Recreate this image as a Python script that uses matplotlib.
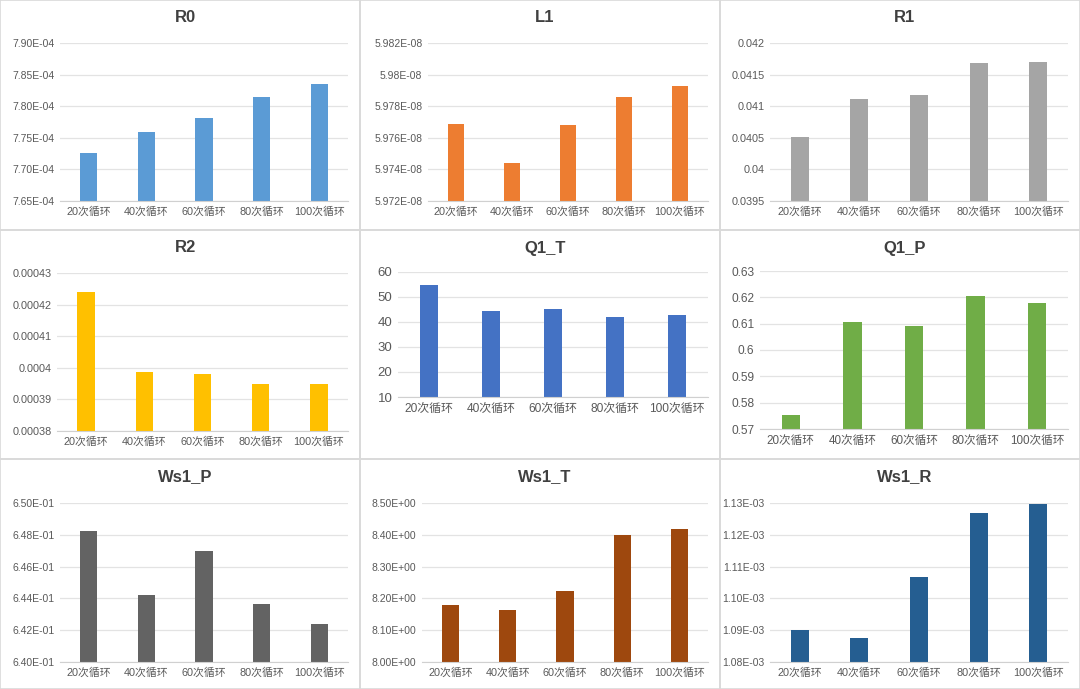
import matplotlib
matplotlib.use("Agg")
import matplotlib.pyplot as plt
from matplotlib.patches import Rectangle

plt.rcParams["font.family"] = ["Liberation Sans", "Noto Sans CJK SC"]

cycles = ["20次循环", "40次循环", "60次循环", "80次循环", "100次循环"]

r0 = [7.7267e-4, 7.759e-4, 7.781e-4, 7.8144e-4, 7.8355e-4]
l1 = [5.97688e-8, 5.9744e-8, 5.97678e-8, 5.97859e-8, 5.97928e-8]
r1 = [0.04052, 0.04111, 0.04117, 0.04169, 0.0417]
r2 = [0.000424, 0.0003987, 0.0003981, 0.0003949, 0.0003949]
q1_t = [54.8, 44.4, 45.1, 41.9, 42.7]
q1_p = [0.5753, 0.6105, 0.6091, 0.6204, 0.6179]
ws1_p = [6.4825e-1, 6.4419e-1, 6.4697e-1, 6.4364e-1, 6.4236e-1]
ws1_t = [8.179, 8.165, 8.223, 8.399, 8.417]
ws1_r = [1.0900e-3, 1.0877e-3, 1.1067e-3, 1.1269e-3, 1.1298e-3]

r0_ticks = [7.65e-4, 7.70e-4, 7.75e-4, 7.80e-4, 7.85e-4, 7.90e-4]
r0_labels = ["7.65E-04", "7.70E-04", "7.75E-04", "7.80E-04", "7.85E-04", "7.90E-04"]
l1_ticks = [5.972e-8, 5.974e-8, 5.976e-8, 5.978e-8, 5.980e-8, 5.982e-8]
l1_labels = ["5.972E-08", "5.974E-08", "5.976E-08", "5.978E-08", "5.98E-08", "5.982E-08"]
r1_ticks = [0.0395, 0.04, 0.0405, 0.041, 0.0415, 0.042]
r1_labels = ["0.0395", "0.04", "0.0405", "0.041", "0.0415", "0.042"]
r2_ticks = [0.00038, 0.00039, 0.0004, 0.00041, 0.00042, 0.00043]
r2_labels = ["0.00038", "0.00039", "0.0004", "0.00041", "0.00042", "0.00043"]
q1_t_ticks = [10, 20, 30, 40, 50, 60]
q1_t_labels = ["10", "20", "30", "40", "50", "60"]
q1_p_ticks = [0.57, 0.58, 0.59, 0.60, 0.61, 0.62, 0.63]
q1_p_labels = ["0.57", "0.58", "0.59", "0.6", "0.61", "0.62", "0.63"]
ws1_p_ticks = [0.640, 0.642, 0.644, 0.646, 0.648, 0.650]
ws1_p_labels = ["6.40E-01", "6.42E-01", "6.44E-01", "6.46E-01", "6.48E-01", "6.50E-01"]
ws1_t_ticks = [8.0, 8.1, 8.2, 8.3, 8.4, 8.5]
ws1_t_labels = ["8.00E+00", "8.10E+00", "8.20E+00", "8.30E+00", "8.40E+00", "8.50E+00"]
ws1_r_ticks = [1.08e-3, 1.09e-3, 1.10e-3, 1.11e-3, 1.12e-3, 1.13e-3]
ws1_r_labels = ["1.08E-03", "1.09E-03", "1.10E-03", "1.11E-03", "1.12E-03", "1.13E-03"]

W, H = 1080, 689
fig = plt.figure(figsize=(W / 100, H / 100), dpi=100)
fig.patch.set_facecolor("white")

# panel boxes (pixels): x0, y0, x1, y1
cells = [(0, 0, 360, 230), (360, 0, 720, 230), (720, 0, 1080, 230),
         (0, 230, 360, 459), (360, 230, 720, 459), (720, 230, 1080, 459),
         (0, 459, 360, 689), (360, 459, 720, 689), (720, 459, 1080, 689)]
for x0, y0, x1, y1 in cells:
    fig.patches.append(Rectangle((x0 / W, 1 - y1 / H), (x1 - x0) / W, (y1 - y0) / H,
                                 transform=fig.transFigure, fill=False,
                                 edgecolor="#d9d9d9", lw=1.2, zorder=0))

# title, values, ticks, labels, colour, plot box (px: left, top, right, bottom), y size, x size
panels = [
    ("R0", r0, r0_ticks, r0_labels, "#5B9BD5", (60, 43, 348, 201), 7.5, 7.8),
    ("L1", l1, l1_ticks, l1_labels, "#ED7D31", (428, 43, 708, 201), 7.5, 7.8),
    ("R1", r1, r1_ticks, r1_labels, "#A5A5A5", (770, 43, 1068, 201), 7.8, 7.8),
    ("R2", r2, r2_ticks, r2_labels, "#FFC000", (57, 273, 348, 431), 7.8, 7.8),
    ("Q1_T", q1_t, q1_t_ticks, q1_t_labels, "#4472C4", (398, 272, 708, 397), 9.5, 8.6),
    ("Q1_P", q1_p, q1_p_ticks, q1_p_labels, "#70AD47", (760, 271, 1068, 429), 8.6, 8.4),
    ("Ws1_P", ws1_p, ws1_p_ticks, ws1_p_labels, "#636363", (60, 503, 348, 662), 7.5, 7.8),
    ("Ws1_T", ws1_t, ws1_t_ticks, ws1_t_labels, "#9E480E", (422, 503, 708, 662), 7.5, 7.8),
    ("Ws1_R", ws1_r, ws1_r_ticks, ws1_r_labels, "#255E91", (770, 503, 1068, 662), 7.5, 7.8),
]

for (title, vals, ticks, labels, color, box, fy, fx), cell in zip(panels, cells):
    left, top, right, bottom = box
    ax = fig.add_axes([left / W, 1 - bottom / H, (right - left) / W, (bottom - top) / H])
    ax.bar(range(len(cycles)), vals, width=0.3, color=color, zorder=3)
    ax.set_ylim(ticks[0], ticks[-1])
    ax.set_xlim(-0.5, len(cycles) - 0.5)
    ax.set_yticks(ticks)
    ax.set_yticklabels(labels, fontsize=fy, color="#595959")
    ax.set_xticks(range(len(cycles)))
    ax.set_xticklabels(cycles, fontsize=fx, color="#595959")
    ax.tick_params(length=0, pad=4)
    ax.grid(axis="y", color="#e3e3e3", lw=0.9, zorder=0)
    for s in ["top", "right", "left"]:
        ax.spines[s].set_visible(False)
    ax.spines["bottom"].set_color("#d0d0d0")
    ax.spines["bottom"].set_zorder(4)
    cx = (cell[0] + cell[2]) / 2 + 5
    fig.text(cx / W, 1 - (cell[1] + 18) / H, title, ha="center", va="center",
             fontsize=12, fontweight="bold", color="#404040")

fig.savefig("out.png", dpi=100)
